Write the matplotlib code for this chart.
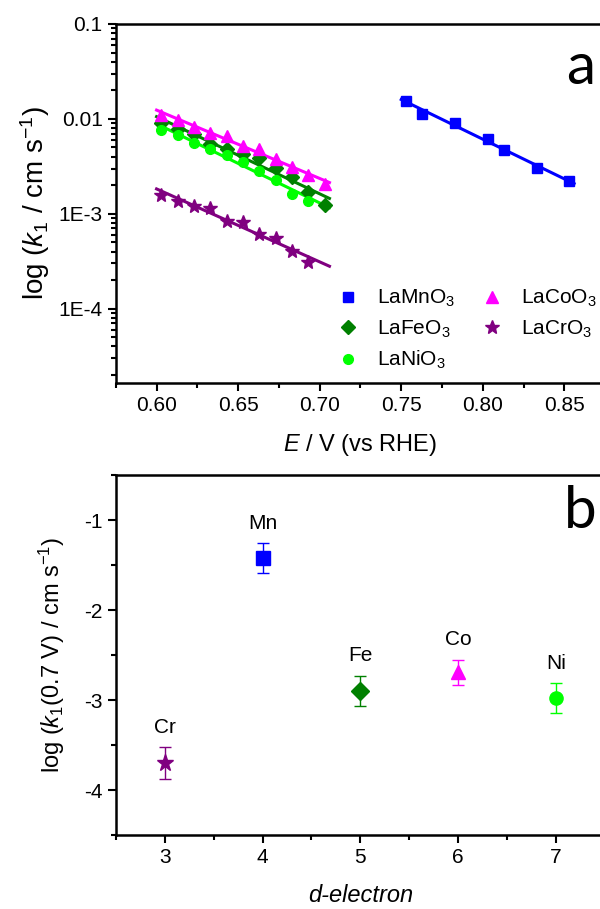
"""Rate constants of LaMO3 perovskites: Tafel-like plot and d-electron trend."""

import numpy as np
import matplotlib

matplotlib.use("Agg")
import matplotlib.pyplot as plt
from matplotlib.ticker import FuncFormatter, LogLocator, MultipleLocator, NullFormatter

# panel a: k1 vs potential
E_MN = [0.753, 0.763, 0.783, 0.803, 0.813, 0.833, 0.853]
K_MN = [0.0155, 0.0113, 0.00908, 0.00611, 0.00472, 0.00307, 0.00222]

E_CO = [0.603, 0.613, 0.623, 0.633, 0.643, 0.653, 0.663, 0.673, 0.683, 0.693, 0.703]
K_CO = [0.0110, 0.00976, 0.0083, 0.00718, 0.00662, 0.00523, 0.0048, 0.00376, 0.0031, 0.00258, 0.00207]

E_FE = [0.603, 0.613, 0.623, 0.633, 0.643, 0.653, 0.663, 0.673, 0.683, 0.693, 0.703]
K_FE = [0.00914, 0.00778, 0.0069, 0.00546, 0.0048, 0.00428, 0.00386, 0.00303, 0.00247, 0.00168, 0.00124]

E_NI = [0.603, 0.613, 0.623, 0.633, 0.643, 0.653, 0.663, 0.673, 0.683, 0.693]
K_NI = [0.00766, 0.00679, 0.00559, 0.00483, 0.00418, 0.00352, 0.00284, 0.00228, 0.00163, 0.00138]

E_CR = [0.603, 0.613, 0.623, 0.633, 0.643, 0.653, 0.663, 0.673, 0.683, 0.693]
K_CR = [0.00158, 0.00138, 0.00121, 0.00115, 0.00083, 0.00081, 0.000615, 0.000554, 0.000401, 0.000307]

# panel b: log k1 at 0.7 V vs number of d electrons
D_ELECTRON = [3, 4, 5, 6, 7]
METALS = ["Cr", "Mn", "Fe", "Co", "Ni"]
LOG_K07 = [-3.70, -1.42, -2.90, -2.69, -2.98]
LOG_K07_ERR = [0.18, 0.165, 0.17, 0.14, 0.165]

COLORS = {"Mn": "#0000FF", "Fe": "#008000", "Ni": "#00FF00", "Co": "#FF00FF", "Cr": "#800080"}
MARKERS = {"Mn": "s", "Fe": "D", "Ni": "o", "Co": "^", "Cr": "*"}

plt.rcParams["font.family"] = ["Liberation Sans", "DejaVu Sans"]
plt.rcParams["mathtext.fontset"] = "custom"
plt.rcParams["mathtext.rm"] = "Liberation Sans"
plt.rcParams["mathtext.it"] = "Liberation Sans:italic"
plt.rcParams["mathtext.default"] = "regular"
plt.rcParams["axes.unicode_minus"] = False
plt.rcParams["font.size"] = 15

fig = plt.figure(figsize=(6, 9.09), dpi=100)
ax_a = fig.add_axes([0.193, 0.5787, 0.8155, 0.3949])
ax_b = fig.add_axes([0.193, 0.0814, 0.815, 0.396])

series = [
    ("Mn", E_MN, K_MN, "LaMnO$_3$"),
    ("Fe", E_FE, K_FE, "LaFeO$_3$"),
    ("Ni", E_NI, K_NI, "LaNiO$_3$"),
    ("Co", E_CO, K_CO, "LaCoO$_3$"),
    ("Cr", E_CR, K_CR, "LaCrO$_3$"),
]
marker_size = {"s": 7, "D": 7, "o": 7, "^": 8, "*": 10}

for metal, e, k, label in series:
    e = np.asarray(e)
    logk = np.log10(k)
    slope, icpt = np.polyfit(e, logk, 1)
    x_fit = np.array([e[0] - 0.003, e[0] + 0.103])
    ax_a.plot(x_fit, 10 ** (slope * x_fit + icpt), color=COLORS[metal], lw=2.2, zorder=2)
    mk = MARKERS[metal]
    ax_a.plot(e, k, ls="none", marker=mk, ms=marker_size[mk], color=COLORS[metal],
              mec=COLORS[metal], label=label, zorder=3)

ax_a.set_yscale("log")
ax_a.set_xlim(0.575, 0.875)
ax_a.set_ylim(1.65e-5, 0.1)
ax_a.xaxis.set_major_locator(MultipleLocator(0.05))
ax_a.xaxis.set_minor_locator(MultipleLocator(0.025))
ax_a.xaxis.set_major_formatter(FuncFormatter(lambda v, _: f"{v:.2f}"))
ax_a.yaxis.set_major_locator(LogLocator(base=10, numticks=10))
ax_a.yaxis.set_minor_locator(LogLocator(base=10, subs=range(2, 10), numticks=10))
ax_a.yaxis.set_minor_formatter(NullFormatter())


def log_label(v, _):
    exp = int(round(np.log10(v)))
    return f"{v:g}" if exp >= -2 else f"1E{exp}"


ax_a.yaxis.set_major_formatter(FuncFormatter(log_label))
ax_a.set_xlabel("$\\it{E}$ / V (vs RHE)", fontsize=17, labelpad=12)
ax_a.set_ylabel("log ($\\it{k}_{1}$ / cm s$^{-1}$)", fontsize=20, labelpad=5)
ax_a.legend(loc="upper left", bbox_to_anchor=(0.431, 0.294), ncol=2, frameon=False,
            borderpad=0, handlelength=1.0, handletextpad=0.9, columnspacing=1.3,
            labelspacing=0.45, fontsize=15)
ax_a.text(0.95, 0.88, "a", transform=ax_a.transAxes, fontsize=42, family="Lato",
          ha="center", va="center")

for i, metal in enumerate(METALS):
    mk = MARKERS[metal]
    ax_b.errorbar(D_ELECTRON[i], LOG_K07[i], yerr=LOG_K07_ERR[i], fmt=mk,
                  ms=marker_size[mk] + 2.5, color=COLORS[metal], ecolor=COLORS[metal],
                  elinewidth=1, capsize=4, capthick=1)
    ax_b.text(D_ELECTRON[i], LOG_K07[i] + LOG_K07_ERR[i] + 0.22, metal,
              ha="center", va="center", fontsize=15)

ax_b.set_xlim(2.5, 7.5)
ax_b.set_ylim(-4.5, -0.5)
ax_b.xaxis.set_major_locator(MultipleLocator(1))
ax_b.xaxis.set_minor_locator(MultipleLocator(0.5))
ax_b.yaxis.set_major_locator(MultipleLocator(1))
ax_b.yaxis.set_minor_locator(MultipleLocator(0.5))
ax_b.set_xlabel("d-electron", style="italic", fontsize=17, labelpad=12)
ax_b.set_ylabel("log ($\\it{k}_{1}$(0.7 V) / cm s$^{-1}$)", fontsize=17, labelpad=12)
ax_b.text(0.95, 0.9, "b", transform=ax_b.transAxes, fontsize=42, family="Lato",
          ha="center", va="center")

for ax in (ax_a, ax_b):
    for side in ("left", "bottom", "top", "right"):
        ax.spines[side].set_linewidth(1.8)
    ax.tick_params(which="both", direction="out", width=1.5, top=False, right=False,
                   labelsize=15)
    ax.tick_params(which="major", length=6)
    ax.tick_params(which="minor", length=3.5)

fig.savefig("out.png", dpi=100)
plt.close(fig)
